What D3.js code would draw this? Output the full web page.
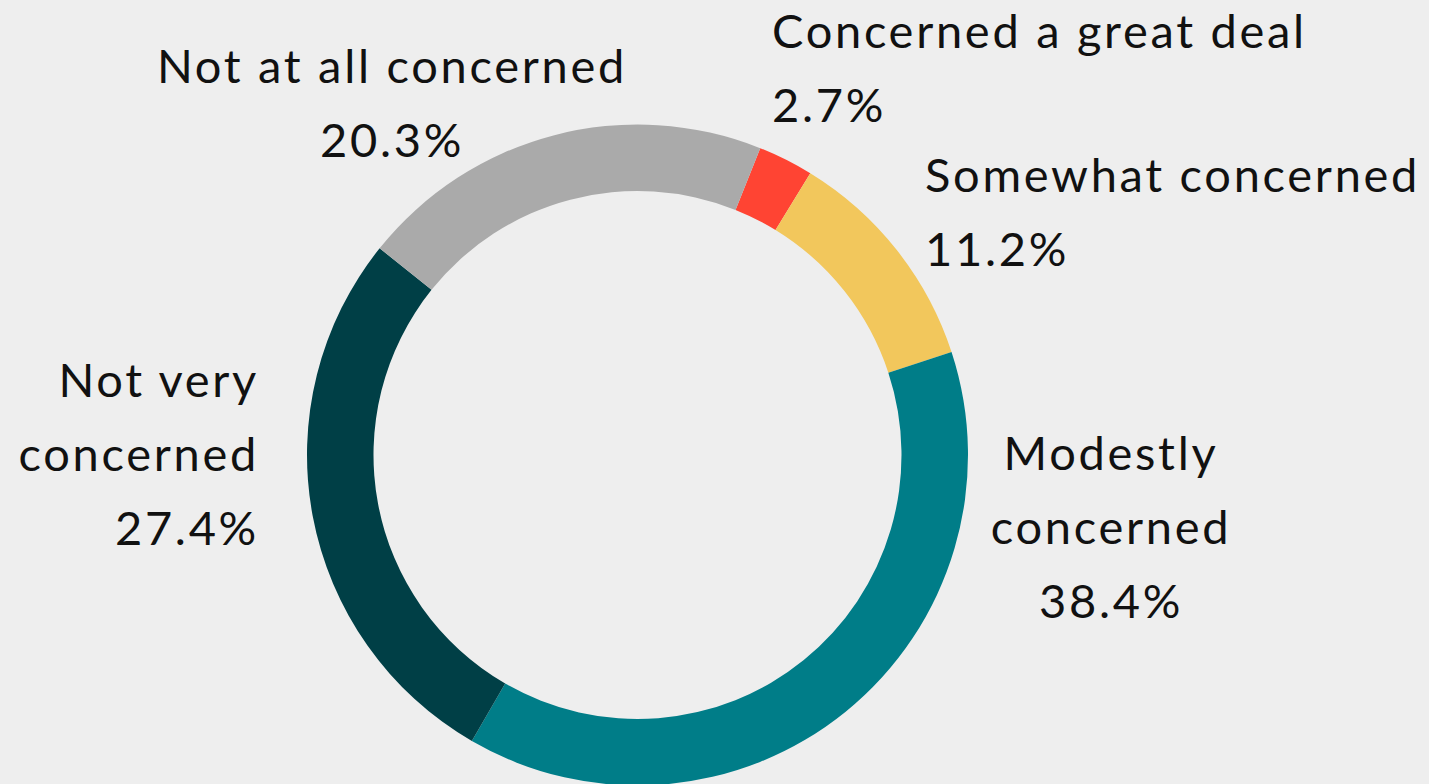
<!DOCTYPE html>
<html>
<head>
<meta charset="utf-8">
<script src="https://cdn.jsdelivr.net/npm/d3@7"></script>
<style>
  html, body { margin: 0; padding: 0; background: #eeeeee; }
  svg { display: block; }
  .label { font-family: "Lato", "Open Sans", sans-serif; font-size: 47px; letter-spacing: 2.7px; fill: #111; }
</style>
</head>
<body>
<svg id="chart"></svg>
<script>
var categories = ["Concerned a great deal", "Somewhat concerned", "Modestly concerned",
                  "Not very concerned", "Not at all concerned"];
var values = [2.7, 11.2, 38.4, 27.4, 20.3];
var colors = ["#ff4433", "#f2c75c", "#007d88", "#003f46", "#aaaaaa"];

// label line breaks, as shown in the picture
var labelLines = [
  ["Concerned a great deal"],
  ["Somewhat concerned"],
  ["Modestly", "concerned"],
  ["Not very", "concerned"],
  ["Not at all concerned"]
];

var width = 1429, height = 784;
var cx = 637.5, cy = 455,
    outerR = 330.5, innerR = 264;
var lineH = 74;

// where each label block sits: x, first baseline, anchor
var labelPos = [
  {x: 772, y: 48, anchor: "start"},
  {x: 925, y: 192, anchor: "start"},
  {x: 1111, y: 470, anchor: "middle"},
  {x: 259, y: 397, anchor: "end"},
  {x: 392, y: 83, anchor: "middle"}
];

var svg = d3.select("#chart")
    .attr("width", width)
    .attr("height", height);

var start = 21.8 * Math.PI / 180;

var pie = d3.pie()
    .sort(null)
    .value(function(d) { return d; })
    .startAngle(start)
    .endAngle(start + 2 * Math.PI);

var arc = d3.arc()
    .innerRadius(innerR)
    .outerRadius(outerR);

var g = svg.append("g")
    .attr("transform", "translate(" + cx + "," + cy + ")");

g.selectAll("path")
    .data(pie(values))
  .enter().append("path")
    .attr("d", arc)
    .attr("fill", function(d, i) { return colors[i]; });

var fmt = d3.format(".1f");

var labels = svg.selectAll("text.label")
    .data(categories)
  .enter().append("text")
    .attr("class", "label")
    .attr("text-anchor", function(d, i) { return labelPos[i].anchor; });

labels.each(function(d, i) {
  var t = d3.select(this);
  var lines = labelLines[i].concat([fmt(values[i]) + "%"]);
  lines.forEach(function(s, j) {
    t.append("tspan")
      .attr("x", labelPos[i].x)
      .attr("y", labelPos[i].y + j * lineH)
      .text(s);
  });
});
</script>
</body>
</html>
